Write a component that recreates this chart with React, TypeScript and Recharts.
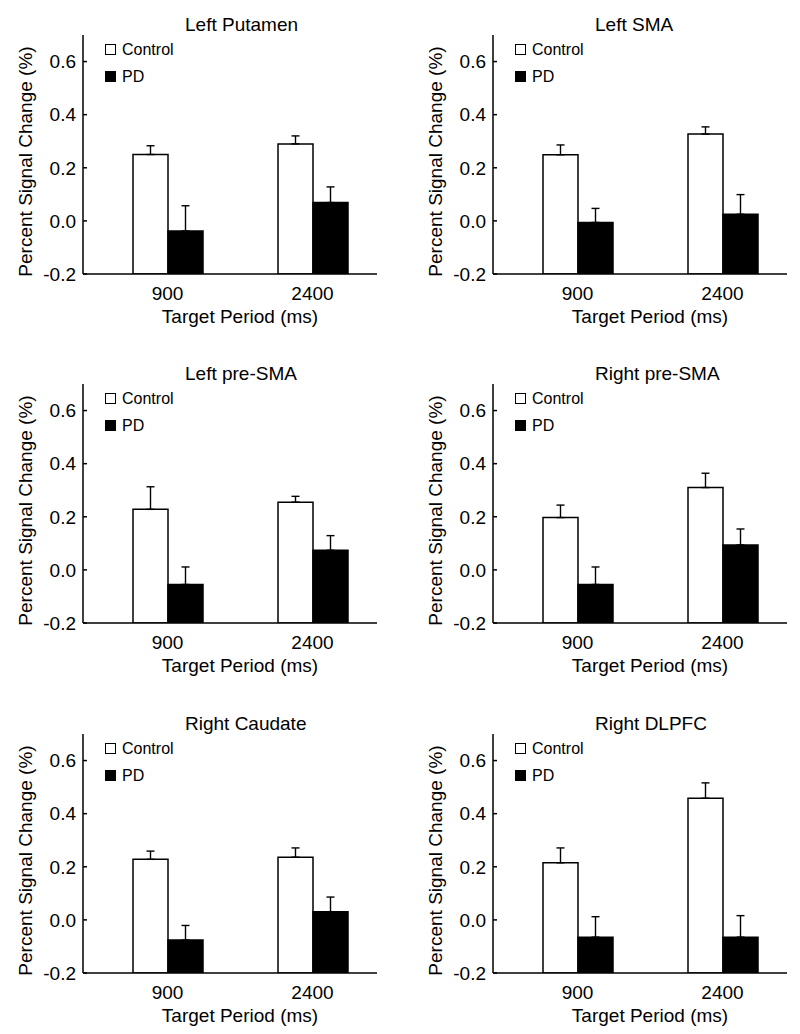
import React from 'react';
import { BarChart, Bar, XAxis, YAxis, ErrorBar, Legend } from 'recharts';

const categories = ['900', '2400'];
const panelTitles = ['Left Putamen', 'Left SMA', 'Left pre-SMA', 'Right pre-SMA', 'Right Caudate', 'Right DLPFC'];
const seriesNames = ['Control', 'PD'];
const seriesFills = ['#ffffff', '#000000'];
const yTicks = [-0.2, 0, 0.2, 0.4, 0.6];
const yDomain = [-0.2, 0.7];

// per panel: [900, 2400]
const controlMean = [
  [0.25, 0.29],
  [0.249, 0.327],
  [0.228, 0.255],
  [0.197, 0.31],
  [0.228, 0.236],
  [0.215, 0.458],
];
const controlErr = [
  [0.033, 0.03],
  [0.037, 0.027],
  [0.085, 0.022],
  [0.047, 0.054],
  [0.031, 0.035],
  [0.056, 0.058],
];
const pdMean = [
  [-0.038, 0.069],
  [-0.006, 0.025],
  [-0.055, 0.074],
  [-0.055, 0.094],
  [-0.076, 0.031],
  [-0.065, -0.065],
];
const pdErr = [
  [0.095, 0.059],
  [0.053, 0.074],
  [0.066, 0.055],
  [0.066, 0.06],
  [0.055, 0.055],
  [0.077, 0.081],
];

const FONT = '"Liberation Sans", Arial, Helvetica, sans-serif';
const CHART_W = 390;
const CHART_H = 334;
const rowTops = [0, 349, 699];
const colLefts = [0, 410];

const buildData = (i: number) =>
  categories.map((cat, j) => ({
    period: cat,
    control: [yDomain[0], controlMean[i][j]],
    pd: [yDomain[0], pdMean[i][j]],
    controlErr: [0, controlErr[i][j]],
    pdErr: [0, pdErr[i][j]],
  }));

const LegendContent = () => (
  <div style={{ fontFamily: FONT }}>
    {seriesNames.map((name, k) => (
      <div key={name} style={{ display: 'flex', alignItems: 'center', height: 27 }}>
        <span
          style={{
            display: 'inline-block',
            width: 9,
            height: 9,
            border: '1.5px solid #000',
            background: seriesFills[k],
          }}
        />
        <span style={{ marginLeft: 6, fontSize: 16, color: '#000' }}>{name}</span>
      </div>
    ))}
  </div>
);

const YLabel = (props: any) => {
  const vb = props.viewBox || { x: 0, y: 0, width: 0, height: 0 };
  const x = vb.x - 8;
  const y = vb.y + vb.height / 2 + 7;
  return (
    <text
      x={x}
      y={y}
      transform={`rotate(-90, ${x}, ${y})`}
      textAnchor="middle"
      dominantBaseline="central"
      fontSize={19}
      fill="#000"
      fontFamily={FONT}
    >
      Percent Signal Change (%)
    </text>
  );
};

const XLabel = (props: any) => {
  const vb = props.viewBox || { x: 0, y: 0, width: 0, height: 0 };
  const x = vb.x + vb.width / 2 + 10;
  const y = vb.y + 42;
  return (
    <text x={x} y={y} textAnchor="middle" dominantBaseline="central" fontSize={19} fill="#000" fontFamily={FONT}>
      Target Period (ms)
    </text>
  );
};

const Panel = ({ index }: { index: number }) => {
  const row = Math.floor(index / 2);
  const col = index % 2;
  const data = buildData(index);
  return (
    <div style={{ position: 'absolute', left: colLefts[col], top: rowTops[row], width: CHART_W, height: CHART_H }}>
      <BarChart
        width={CHART_W}
        height={CHART_H}
        data={data}
        margin={{ top: 35, right: 13, bottom: 10, left: 33 }}
        barGap={0}
        barSize={35}
      >
        <XAxis
          dataKey="period"
          height={50}
          padding={{ left: 12, right: -8 }}
          tickLine={false}
          tickSize={0}
          tickMargin={13}
          axisLine
          stroke="#000"
          strokeWidth={1.5}
          tick={{ fontSize: 19, fill: '#000', fontFamily: FONT }}
          label={{ content: XLabel }}
        />
        <YAxis
          width={50}
          domain={yDomain}
          ticks={yTicks}
          type="number"
          allowDataOverflow
          tickSize={-4}
          tickMargin={11}
          tickFormatter={(v: number) => v.toFixed(1)}
          axisLine
          stroke="#000"
          strokeWidth={1.5}
          tickLine
          tick={{ fontSize: 19, fill: '#000', fontFamily: FONT }}
          label={{ content: YLabel }}
        />
        <Legend
          verticalAlign="middle"
          align="center"
          layout="horizontal"
          content={LegendContent}
          wrapperStyle={{ top: 36, left: 105, width: 120, height: 56 }}
        />
        <Bar dataKey="control" name={seriesNames[0]} fill={seriesFills[0]} stroke="#000" strokeWidth={1.5} isAnimationActive={false}>
          <ErrorBar dataKey="controlErr" direction="y" width={4} stroke="#000" strokeWidth={1.4} isAnimationActive={false} />
        </Bar>
        <Bar dataKey="pd" name={seriesNames[1]} fill={seriesFills[1]} stroke="#000" strokeWidth={1.5} isAnimationActive={false}>
          <ErrorBar dataKey="pdErr" direction="y" width={4} stroke="#000" strokeWidth={1.4} isAnimationActive={false} />
        </Bar>
      </BarChart>
      <div
        style={{
          position: 'absolute',
          left: 185,
          top: 15,
          fontSize: 19,
          lineHeight: '19px',
          fontFamily: FONT,
          color: '#000',
          whiteSpace: 'nowrap',
        }}
      >
        {panelTitles[index]}
      </div>
    </div>
  );
}

export default function App() {
  return (
    <div
      style={{
        position: 'absolute',
        left: 0,
        top: 0,
        width: 800,
        height: 1034,
        overflow: 'hidden',
        background: '#fff',
        fontFamily: FONT,
      }}
    >
      {panelTitles.map((_, i) => (
        <Panel key={i} index={i} />
      ))}
    </div>
  );
}
